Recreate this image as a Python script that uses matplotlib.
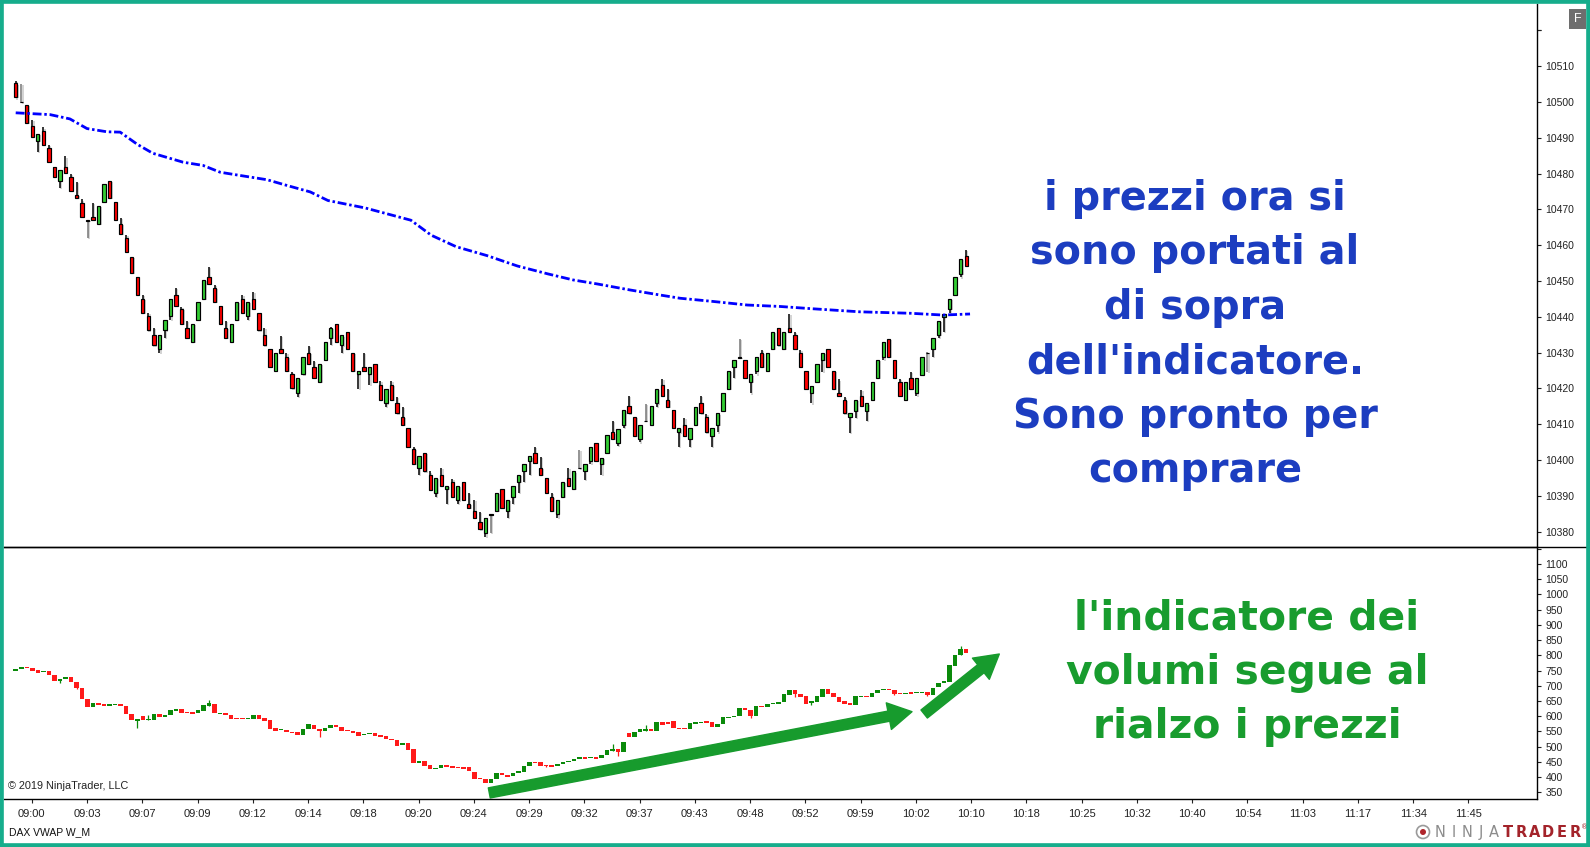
import matplotlib
matplotlib.use("Agg")
import matplotlib.pyplot as plt
from matplotlib.patches import Rectangle, Ellipse
from matplotlib.lines import Line2D
import numpy as np

# price bars (DAX, one bar per entry)
price_open = [10505.2, 10500.2, 10499.3, 10493.3, 10489.1, 10492.0, 10487.1, 10482.0, 10478.0, 10482.0,
              10479.2, 10474.0, 10471.9, 10467.0, 10468.0, 10466.0, 10472.0, 10477.9, 10472.0, 10466.0,
              10462.1, 10456.8, 10451.1, 10445.1, 10440.2, 10434.9, 10430.9, 10436.2, 10440.2, 10446.1,
              10442.2, 10437.0, 10433.0, 10439.1, 10445.1, 10451.1, 10448.1, 10443.1, 10437.0, 10433.0,
              10439.1, 10445.0, 10440.2, 10445.0, 10441.1, 10434.9, 10430.9, 10424.9, 10430.9, 10428.9,
              10424.0, 10418.8, 10423.9, 10430.0, 10425.9, 10421.9, 10427.9, 10434.0, 10438.0, 10432.0,
              10435.9, 10430.0, 10423.9, 10425.9, 10423.9, 10426.8, 10420.9, 10415.8, 10420.9, 10415.8,
              10411.9, 10408.9, 10403.0, 10397.9, 10401.9, 10395.8, 10390.7, 10395.8, 10391.8, 10393.9,
              10388.7, 10393.9, 10387.6, 10385.8, 10382.8, 10379.5, 10384.8, 10385.8, 10391.8, 10385.8,
              10389.8, 10393.9, 10396.9, 10399.8, 10401.9, 10397.9, 10394.9, 10389.8, 10384.8, 10389.8,
              10394.9, 10391.8, 10397.8, 10396.9, 10399.7, 10404.8, 10398.8, 10401.9, 10407.7, 10404.8,
              10409.8, 10415.0, 10411.9, 10405.8, 10410.9, 10409.8, 10415.8, 10420.9, 10416.8, 10414.0,
              10407.7, 10409.8, 10405.8, 10409.8, 10415.8, 10411.9, 10406.8, 10409.8, 10413.8, 10419.8,
              10425.9, 10428.7, 10427.9, 10421.9, 10424.9, 10430.0, 10424.9, 10430.9, 10436.8, 10430.9,
              10436.8, 10434.8, 10430.0, 10424.9, 10418.8, 10421.9, 10427.9, 10431.0, 10424.9, 10418.8,
              10416.8, 10411.9, 10413.8, 10417.9, 10413.8, 10416.8, 10422.8, 10428.9, 10433.9, 10427.9,
              10421.9, 10416.8, 10422.8, 10418.8, 10423.8, 10430.0, 10430.9, 10434.9, 10440.0, 10442.1,
              10446.1, 10452.1, 10457.0]
price_high = [10505.9, 10505.0, 10499.3, 10495.0, 10491.2, 10492.9, 10488.0, 10482.0, 10481.0, 10484.8,
              10479.8, 10477.8, 10472.8, 10467.1, 10471.7, 10471.1, 10477.0, 10477.9, 10472.0, 10467.7,
              10462.8, 10456.8, 10451.1, 10446.0, 10441.0, 10436.9, 10434.9, 10439.1, 10445.0, 10448.0,
              10442.8, 10438.8, 10438.0, 10444.2, 10450.2, 10453.9, 10449.0, 10443.1, 10438.8, 10438.0,
              10444.1, 10446.0, 10444.1, 10447.0, 10441.1, 10436.9, 10430.9, 10429.9, 10434.7, 10429.8,
              10424.6, 10422.8, 10428.9, 10431.8, 10427.7, 10426.8, 10432.9, 10437.3, 10438.0, 10434.8,
              10435.9, 10430.0, 10424.9, 10429.8, 10425.9, 10426.8, 10422.0, 10419.9, 10422.0, 10417.7,
              10414.7, 10408.9, 10403.7, 10401.0, 10401.9, 10396.8, 10394.9, 10397.7, 10392.8, 10394.7,
              10392.8, 10393.9, 10390.7, 10388.9, 10385.6, 10383.7, 10384.9, 10390.9, 10391.8, 10388.9,
              10392.8, 10395.8, 10398.9, 10401.0, 10403.7, 10400.8, 10394.9, 10390.7, 10388.9, 10393.8,
              10397.7, 10396.8, 10402.8, 10398.8, 10403.7, 10404.8, 10400.7, 10407.0, 10410.8, 10408.8,
              10414.0, 10417.9, 10411.9, 10409.8, 10415.7, 10415.1, 10419.9, 10422.7, 10419.8, 10414.0,
              10408.9, 10411.8, 10408.9, 10414.9, 10417.9, 10412.9, 10408.9, 10413.0, 10418.8, 10424.9,
              10427.9, 10433.8, 10427.9, 10423.9, 10428.9, 10430.7, 10430.0, 10435.9, 10436.8, 10435.9,
              10440.8, 10435.9, 10430.7, 10424.9, 10420.8, 10426.8, 10430.0, 10431.0, 10424.9, 10422.5,
              10417.7, 10413.0, 10416.8, 10419.7, 10415.8, 10421.9, 10427.9, 10432.9, 10433.9, 10427.9,
              10422.6, 10421.9, 10424.7, 10422.8, 10428.9, 10430.1, 10434.0, 10438.9, 10440.8, 10444.9,
              10451.0, 10456.1, 10458.8]
price_low = [10501.0, 10499.8, 10494.2, 10490.2, 10486.1, 10488.0, 10483.2, 10479.2, 10475.9, 10480.1,
             10475.2, 10473.1, 10468.0, 10462.1, 10467.0, 10466.0, 10472.0, 10473.1, 10467.0, 10463.2,
             10458.0, 10452.2, 10446.0, 10441.1, 10436.2, 10432.0, 10429.8, 10434.1, 10439.2, 10443.1,
             10438.1, 10434.1, 10433.0, 10439.1, 10445.1, 10449.1, 10444.2, 10438.1, 10434.1, 10433.0,
             10439.1, 10441.1, 10439.1, 10442.2, 10436.2, 10432.0, 10425.9, 10424.9, 10429.9, 10424.9,
             10420.0, 10417.7, 10423.9, 10426.9, 10422.9, 10421.9, 10427.9, 10432.1, 10433.0, 10430.0,
             10430.9, 10424.9, 10419.9, 10424.9, 10420.9, 10421.9, 10416.8, 10414.9, 10416.8, 10413.0,
             10409.8, 10403.7, 10398.9, 10395.8, 10396.8, 10391.6, 10389.6, 10392.7, 10387.6, 10389.8,
             10387.6, 10388.9, 10386.7, 10383.7, 10380.6, 10378.6, 10379.5, 10385.8, 10386.7, 10383.7,
             10387.6, 10390.7, 10393.8, 10395.8, 10399.1, 10395.8, 10390.9, 10385.8, 10383.7, 10389.8,
             10392.8, 10391.8, 10397.6, 10394.4, 10398.8, 10399.7, 10395.8, 10401.9, 10405.9, 10403.9,
             10408.9, 10413.0, 10406.8, 10404.9, 10410.8, 10409.8, 10414.9, 10417.9, 10414.9, 10408.9,
             10403.7, 10406.8, 10403.7, 10409.8, 10413.0, 10407.7, 10403.7, 10407.7, 10413.8, 10419.8,
             10422.8, 10428.6, 10422.8, 10418.6, 10423.9, 10425.9, 10424.9, 10430.9, 10432.0, 10430.9,
             10435.9, 10430.9, 10425.9, 10419.8, 10415.8, 10421.9, 10424.7, 10425.9, 10419.8, 10417.9,
             10413.0, 10407.6, 10411.8, 10415.1, 10410.9, 10416.8, 10422.8, 10427.9, 10428.9, 10422.8,
             10417.9, 10416.8, 10419.8, 10417.9, 10423.8, 10424.7, 10428.9, 10434.0, 10435.9, 10441.2,
             10446.1, 10451.0, 10454.2]
price_close = [10501.3, 10500.0, 10494.2, 10490.2, 10491.2, 10488.0, 10483.2, 10479.2, 10481.0, 10480.1,
               10475.2, 10473.1, 10468.0, 10466.9, 10467.0, 10471.1, 10477.0, 10473.1, 10467.0, 10463.2,
               10458.0, 10452.2, 10446.0, 10441.1, 10436.2, 10432.0, 10434.9, 10439.1, 10445.0, 10443.1,
               10438.1, 10434.1, 10438.0, 10444.2, 10450.2, 10449.1, 10444.2, 10438.1, 10434.1, 10438.0,
               10444.1, 10441.1, 10444.1, 10442.2, 10436.2, 10432.0, 10425.9, 10429.9, 10429.9, 10424.9,
               10420.0, 10422.8, 10428.9, 10426.9, 10422.9, 10426.8, 10432.9, 10436.8, 10433.0, 10434.8,
               10430.9, 10424.9, 10424.9, 10424.9, 10425.9, 10421.9, 10416.8, 10419.9, 10416.8, 10413.0,
               10409.8, 10403.7, 10398.9, 10401.0, 10396.8, 10391.6, 10394.9, 10392.7, 10392.8, 10389.8,
               10392.8, 10388.9, 10386.7, 10383.7, 10380.6, 10383.7, 10384.7, 10390.9, 10386.7, 10388.9,
               10392.8, 10395.8, 10398.9, 10401.0, 10399.1, 10395.8, 10390.9, 10385.8, 10388.9, 10393.8,
               10392.8, 10396.8, 10397.7, 10398.8, 10403.7, 10399.7, 10400.7, 10407.0, 10405.9, 10408.8,
               10414.0, 10413.0, 10406.8, 10409.8, 10410.8, 10415.1, 10419.9, 10417.9, 10414.9, 10408.9,
               10408.9, 10406.8, 10408.9, 10414.9, 10413.0, 10407.7, 10408.9, 10413.0, 10418.8, 10424.9,
               10427.9, 10428.6, 10422.8, 10423.9, 10428.9, 10425.9, 10430.0, 10435.9, 10432.0, 10435.9,
               10435.9, 10430.9, 10425.9, 10419.8, 10420.8, 10426.8, 10430.0, 10425.9, 10419.8, 10417.9,
               10413.0, 10413.0, 10416.8, 10415.1, 10415.8, 10421.9, 10427.9, 10432.9, 10428.9, 10422.8,
               10417.9, 10421.9, 10419.8, 10422.8, 10428.9, 10429.9, 10434.0, 10438.9, 10440.8, 10444.9,
               10451.0, 10456.1, 10454.2]

# VWAP line, read at these bar positions
vwap_x = [0, 6.2, 9.8, 12.9, 16.5, 18.9, 22.0, 24.8, 30.3, 33.9, 37.0, 40.6, 45.5, 49.1, 53.3, 56.5,
          63.3, 71.5, 75.2, 79.7, 85.3, 90.8, 96.3, 100.9, 105.2, 111.2, 116.6, 120.2, 126.2, 132.4,
          138.3, 143.8, 152.8, 161.9, 167.8, 172.7]
vwap_y = [10497.0, 10496.5, 10495.3, 10492.6, 10491.7, 10491.6, 10488.2, 10485.7, 10483.2, 10482.3,
          10480.4, 10479.5, 10478.3, 10476.7, 10474.9, 10472.5, 10470.4, 10467.0, 10462.8, 10459.6,
          10457.1, 10454.2, 10452.0, 10450.3, 10449.2, 10447.5, 10446.1, 10445.2, 10444.3, 10443.3,
          10442.9, 10442.3, 10441.4, 10441.0, 10440.5, 10440.8]

# volume indicator bars (lower panel)
ind_open = [749.6, 755.0, 762.7, 757.2, 752.8, 745.2, 749.6, 734.2, 716.7, 721.1,
            727.7, 713.4, 691.5, 656.5, 631.3, 642.3, 639.0, 634.6, 636.8, 639.0,
            632.0, 606.1, 585.3, 600.6, 587.5, 587.5, 606.1, 596.3, 603.9, 618.2,
            622.5, 614.9, 613.8, 611.6, 618.2, 633.5, 640.1, 606.1, 609.4, 603.9,
            593.0, 593.0, 589.7, 589.7, 602.8, 595.2, 587.5, 562.3, 554.7, 554.7,
            549.2, 547.0, 538.2, 559.0, 571.1, 557.9, 550.3, 560.1, 570.0, 564.5,
            554.7, 551.4, 547.0, 538.2, 540.4, 543.7, 539.3, 534.9, 526.2, 521.8,
            505.4, 510.9, 491.1, 445.2, 452.8, 438.6, 426.5, 430.9, 438.6, 437.5,
            433.1, 433.1, 433.1, 418.0, 395.9, 392.6, 381.6, 393.0, 414.5, 407.9,
            403.5, 412.3, 417.8, 437.5, 449.5, 449.5, 440.8, 440.8, 437.5, 441.9,
            448.4, 453.9, 459.4, 464.9, 461.6, 467.1, 463.8, 472.5, 486.8, 491.1,
            483.5, 543.7, 532.8, 547.0, 552.5, 556.8, 552.5, 579.8, 579.8, 583.1,
            561.2, 561.2, 557.9, 575.5, 577.6, 583.1, 579.8, 565.6, 574.4, 594.1,
            596.3, 601.7, 625.8, 620.4, 601.7, 633.5, 631.3, 639.0, 639.0, 645.5,
            669.6, 686.1, 672.9, 666.3, 642.3, 645.5, 664.2, 688.2, 675.1, 662.0,
            649.9, 642.3, 636.8, 662.0, 666.3, 664.2, 677.3, 686.1, 690.4, 686.1,
            677.3, 674.0, 679.5, 675.1, 675.1, 680.6, 669.6, 694.8, 707.9, 713.4,
            766.0, 801.0, 819.6]
ind_close = [755.0, 762.7, 759.4, 749.6, 743.0, 749.6, 734.2, 716.7, 723.3, 727.7,
             713.4, 691.5, 656.5, 631.3, 644.4, 636.8, 634.6, 639.0, 640.1, 634.6,
             606.1, 587.5, 590.8, 587.5, 590.8, 606.1, 597.4, 603.9, 620.4, 622.5,
             611.6, 609.4, 608.3, 620.4, 635.7, 642.3, 609.4, 609.4, 605.0, 590.8,
             589.7, 589.7, 593.0, 602.8, 591.9, 584.2, 557.9, 552.5, 557.9, 548.1,
             543.7, 538.2, 559.0, 574.4, 556.8, 551.4, 562.3, 570.0, 563.4, 552.5,
             550.3, 545.9, 536.0, 542.6, 543.7, 536.0, 532.8, 524.0, 521.8, 503.2,
             510.9, 488.9, 445.2, 452.8, 437.5, 425.4, 430.9, 438.6, 434.2, 430.9,
             428.7, 427.6, 419.0, 393.7, 392.6, 381.6, 395.0, 413.0, 405.7, 401.3,
             414.5, 421.1, 437.5, 449.5, 445.2, 437.5, 436.4, 434.2, 441.9, 448.4,
             453.9, 460.5, 464.9, 458.3, 467.1, 460.5, 472.5, 489.0, 491.1, 482.4,
             516.3, 532.8, 547.0, 556.8, 556.8, 552.5, 579.8, 571.1, 574.4, 560.1,
             556.8, 557.9, 576.5, 579.8, 582.0, 576.5, 565.6, 574.4, 596.3, 598.5,
             600.6, 625.8, 620.4, 601.7, 633.5, 629.1, 639.0, 644.4, 647.7, 672.9,
             686.1, 671.8, 664.2, 640.1, 649.9, 666.3, 688.2, 672.9, 662.0, 646.6,
             640.1, 636.8, 666.3, 666.3, 662.0, 677.3, 686.1, 689.3, 686.1, 672.9,
             672.9, 677.3, 672.9, 678.4, 680.6, 669.6, 693.7, 710.1, 715.6, 768.2,
             801.0, 819.6, 806.5]
# bars of the indicator that show a wick: index -> (low, high)
ind_wicks = {8: (710.1, 723.3), 11: (689.3, 713.4), 22: (560.1, 590.8), 24: (587.5, 603.9),
             35: (633.5, 653.2), 55: (532.8, 557.9), 96: (432.0, 440.8), 108: (486.8, 508.7),
             109: (469.2, 491.1), 114: (552.5, 571.1), 133: (593.0, 620.4), 141: (662.0, 686.1),
             144: (636.0, 649.9), 159: (668.0, 686.1), 165: (665.0, 680.6), 171: (801.0, 830.6)}

time_labels = ["09:00", "09:03", "09:07", "09:09", "09:12", "09:14", "09:18", "09:20", "09:24",
               "09:29", "09:32", "09:37", "09:43", "09:48", "09:52", "09:59", "10:02", "10:10",
               "10:18", "10:25", "10:32", "10:40", "10:54", "11:03", "11:17", "11:34", "11:45"]
price_ticks = list(range(10380, 10530, 10))
ind_ticks = list(range(350, 1200, 50))

text_top = ["i prezzi ora si", "sono portati al", "di sopra", "dell'indicatore.",
            "Sono pronto per", "comprare"]
text_bottom = ["l'indicatore dei", "volumi segue al", "rialzo i prezzi"]

W, H = 1590, 847
fig = plt.figure(figsize=(W / 100, H / 100), dpi=100)
fig.patch.set_facecolor("white")


def fx(px):
    return px / W


def fy(py):
    return 1 - py / H


ax1 = fig.add_axes([fx(4), fy(547), fx(1537) - fx(4), fy(4) - fy(547)])
ax2 = fig.add_axes([fx(4), fy(799), fx(1537) - fx(4), fy(547) - fy(799)])
ax1.patch.set_visible(False)
ax2.patch.set_visible(False)

xlim = (-2.12, 275.3)

# ---- price candles
x = np.arange(len(price_open))
o = np.array(price_open)
c = np.array(price_close)
hi = np.array(price_high)
lo = np.array(price_low)
doji = np.abs(c - o) < 0.3
body_lo = np.minimum(o, c)
body_h = np.where(doji, 0.12, np.abs(c - o))
cols = np.where(c >= o, "#33cc33", "#ff0000")
cols = np.where(doji, "#000000", cols)
wick_cols = np.where(doji, "#777777", "#000000")

ax1.vlines(x + 0.24, lo - 0.3, hi - 0.3, color="#d0d0d0", lw=1.3, zorder=1)
ax1.bar(x + 0.24, body_h, bottom=body_lo - 0.3, width=0.62, color="#cccccc", zorder=1)
ax1.vlines(x, lo, hi, colors=wick_cols, lw=1.1, zorder=2)
ax1.bar(x, body_h, bottom=body_lo, width=0.6, color=cols, edgecolor="black", lw=0.85, zorder=3)

ax1.plot(vwap_x, vwap_y, color="#0000ff", lw=2.0, linestyle=(0, (3.2, 1.0, 0.9, 1.0)), zorder=4)

ax1.set_xlim(*xlim)
ax1.set_ylim(10375.7, 10527.4)

# ---- indicator candles
io = np.array(ind_open)
ic = np.array(ind_close)
icol = np.where(ic >= io, "#0a8a0a", "#ff1a1a")
for k, (wl, wh) in ind_wicks.items():
    ax2.vlines(k, wl, wh, color=icol[k], lw=0.9, zorder=2)
ax2.bar(x, np.maximum(np.abs(ic - io), 1.8), bottom=np.minimum(io, ic), width=0.82,
        color=icol, zorder=3)
ax2.set_xlim(*xlim)
ax2.set_ylim(328, 1155.8)

# arrows
arrow_col = "#179b2d"
style = "simple,head_length=1.7,head_width=1.95,tail_width=0.74"
ax2.annotate("", xy=(162.2, 614.8), xytext=(85.7, 348), xycoords="data",
             arrowprops=dict(arrowstyle=style, mutation_scale=10, color=arrow_col,
                             shrinkA=0, shrinkB=0), zorder=5)
ax2.annotate("", xy=(178.0, 804.3), xytext=(164.4, 607.2), xycoords="data",
             arrowprops=dict(arrowstyle=style, mutation_scale=10, color=arrow_col,
                             shrinkA=0, shrinkB=0), zorder=5)

# ---- axes styling
small = dict(family="Liberation Sans", fontsize=7.5, color="#222222")
for ax in (ax1, ax2):
    for s in ("left", "top"):
        ax.spines[s].set_visible(False)
    ax.spines["right"].set_color("black")
    ax.spines["bottom"].set_color("black")
    ax.spines["right"].set_linewidth(1.0)
    ax.spines["bottom"].set_linewidth(1.0)
    ax.spines["right"].set_zorder(6)
    ax.spines["bottom"].set_zorder(6)
    ax.yaxis.tick_right()
    ax.tick_params(axis="y", direction="out", length=3, width=0.8, pad=3, colors="#222222")

ax1.set_xticks([])
ax1.set_yticks(price_ticks + [10520])
ax1.set_yticklabels([str(v) for v in price_ticks] + [""], **small)
ax2.set_yticks(ind_ticks)
ax2.set_yticklabels([str(v) if v < 1150 else "" for v in ind_ticks], **small)

tick_pos = [2.9 + 10 * k for k in range(len(time_labels))]
ax2.set_xticks(tick_pos)
ax2.set_xticklabels(time_labels, family="Liberation Sans", fontsize=8, color="#222222")
ax2.tick_params(axis="x", direction="out", length=3, width=0.8, pad=4.5, colors="#222222")

# separator line extends under the price scale
fig.add_artist(Line2D([fx(4), fx(1586)], [fy(547), fy(547)], color="black", lw=1.0, zorder=7))

# ---- annotations
for k, t in enumerate(text_top):
    fig.text(fx(1195), fy(210 + 54.4 * k), t, ha="center", va="baseline",
             fontsize=28.6, fontweight="bold", color="#1c3dc0")
for k, t in enumerate(text_bottom):
    fig.text(fx(1247), fy(629 + 54.6 * k), t, ha="center", va="baseline",
             fontsize=29.4, fontweight="bold", color="#189c2e")

fig.text(fx(8), fy(786), "\u00a9 2019 NinjaTrader, LLC", ha="left", va="center",
         family="Liberation Sans", fontsize=7.8, color="#222222")
fig.text(fx(9), fy(832), "DAX VWAP W_M", ha="left", va="center",
         family="Liberation Sans", fontsize=7.5, color="#111111")

# F button
fig.add_artist(Rectangle((fx(1569), fy(29)), 17 / W, 20 / H, transform=fig.transFigure,
                         facecolor="#6e6e6e", edgecolor="none"))
fig.text(fx(1577.5), fy(19), "F", ha="center", va="center", color="white",
         fontsize=9, family="Liberation Sans")

# NinjaTrader logo
fig.add_artist(Ellipse((fx(1423), fy(832)), 13 / W, 13 / H, transform=fig.transFigure,
                       facecolor="white", edgecolor="#9a9a9a", lw=1.2))
fig.add_artist(Ellipse((fx(1423), fy(832)), 6 / W, 6 / H, transform=fig.transFigure,
                       facecolor="#b0262c", edgecolor="none"))
for k, ch in enumerate("NINJATRADER"):
    fig.text(fx(1440 + 13.5 * k), fy(832.5), ch, ha="center", va="center",
             family="DejaVu Sans", fontsize=10.5,
             color="#8c8c8c" if k < 5 else "#a3232a",
             fontweight="normal" if k < 5 else "bold")
fig.text(fx(1585), fy(827), "\u00ae", ha="center", va="center", fontsize=5, color="#a3232a")

# teal window border
fig.add_artist(Rectangle((0, 0), 1, 1, transform=fig.transFigure, fill=False,
                         edgecolor="#16ad8c", lw=5.5, zorder=20))

fig.savefig("out.png", dpi=100)
